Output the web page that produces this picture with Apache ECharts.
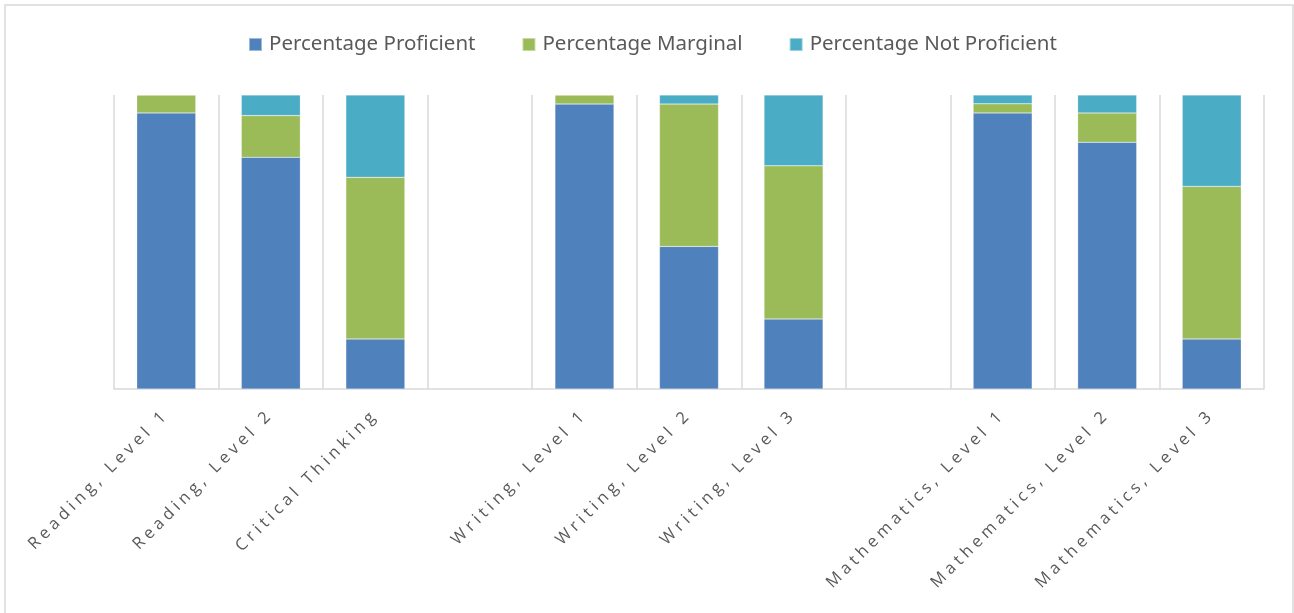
<!DOCTYPE html>
<html>
<head>
<meta charset="utf-8">
<script src="https://cdn.jsdelivr.net/npm/echarts@6/dist/echarts.min.js"></script>
<style>
  html, body { margin: 0; padding: 0; background: #fff; }
  #main { width: 1294px; height: 613px; }
</style>
</head>
<body>
<div id="main"></div>
<script>
var categories = ['Reading, Level 1', 'Reading, Level 2', 'Critical Thinking', '',
  'Writing, Level 1', 'Writing, Level 2', 'Writing, Level 3', '',
  'Mathematics, Level 1', 'Mathematics, Level 2', 'Mathematics, Level 3'];
var proficient    = [93.9, 78.8, 17.0, null, 96.9, 48.5, 23.8, null, 93.9, 83.9, 17.0];
var marginal      = [6.1, 14.2, 55.0, null, 3.1, 48.4, 52.1, null, 3.1, 10.0, 51.9];
var notProficient = [0, 7.0, 28.0, null, 0, 3.1, 24.1, null, 3.0, 6.1, 31.1];

// the axis labels in the original are letter-spaced, canvas can do that natively
var origFill = CanvasRenderingContext2D.prototype.fillText;
CanvasRenderingContext2D.prototype.fillText = function (t, x, y, w) {
  this.letterSpacing = this.font.indexOf('Open Sans') >= 0 ? '4.2px' : '0px';
  return w === undefined ? origFill.call(this, t, x, y) : origFill.call(this, t, x, y, w);
};

var myChart = echarts.init(document.getElementById('main'));

function barSeries(name, data, color) {
  return {
    name: name,
    type: 'bar',
    stack: 'total',
    barWidth: 59,
    data: data,
    itemStyle: { color: color, borderColor: 'rgba(255,255,255,0.45)', borderWidth: 0.5 }
  };
}

var option = {
  animation: false,
  backgroundColor: '#fff',
  graphic: [{
    type: 'rect',
    shape: { x: 5, y: 5, width: 1288, height: 620 },
    style: { fill: 'none', stroke: '#d9d9d9', lineWidth: 1.5 },
    silent: true
  }],
  legend: {
    top: 29,
    left: 243,
    itemWidth: 13,
    itemHeight: 13,
    itemGap: 46,
    icon: 'rect',
    textStyle: { color: '#595959', fontSize: 20.5, fontFamily: 'Noto Sans', padding: [0, 0, 0, 2] },
    data: ['Percentage Proficient', 'Percentage Marginal', 'Percentage Not Proficient']
  },
  grid: { left: 114, right: 30, top: 95, bottom: 224 },
  xAxis: {
    type: 'category',
    data: categories,
    axisTick: { show: false },
    axisLine: { lineStyle: { color: '#d9d9d9', width: 1.5 } },
    splitLine: { show: true, lineStyle: { color: '#d9d9d9', width: 1.5 } },
    axisLabel: {
      interval: 0,
      rotate: 45,
      margin: 23,
      color: '#595959',
      fontSize: 16.5,
      fontFamily: 'Open Sans'
    }
  },
  yAxis: {
    type: 'value',
    min: 0,
    max: 100,
    show: false,
    splitLine: { show: false }
  },
  series: [
    barSeries('Percentage Proficient', proficient, '#4f81bd'),
    barSeries('Percentage Marginal', marginal, '#9bbb59'),
    barSeries('Percentage Not Proficient', notProficient, '#4bacc6')
  ]
};
myChart.setOption(option);
</script>
</body>
</html>
